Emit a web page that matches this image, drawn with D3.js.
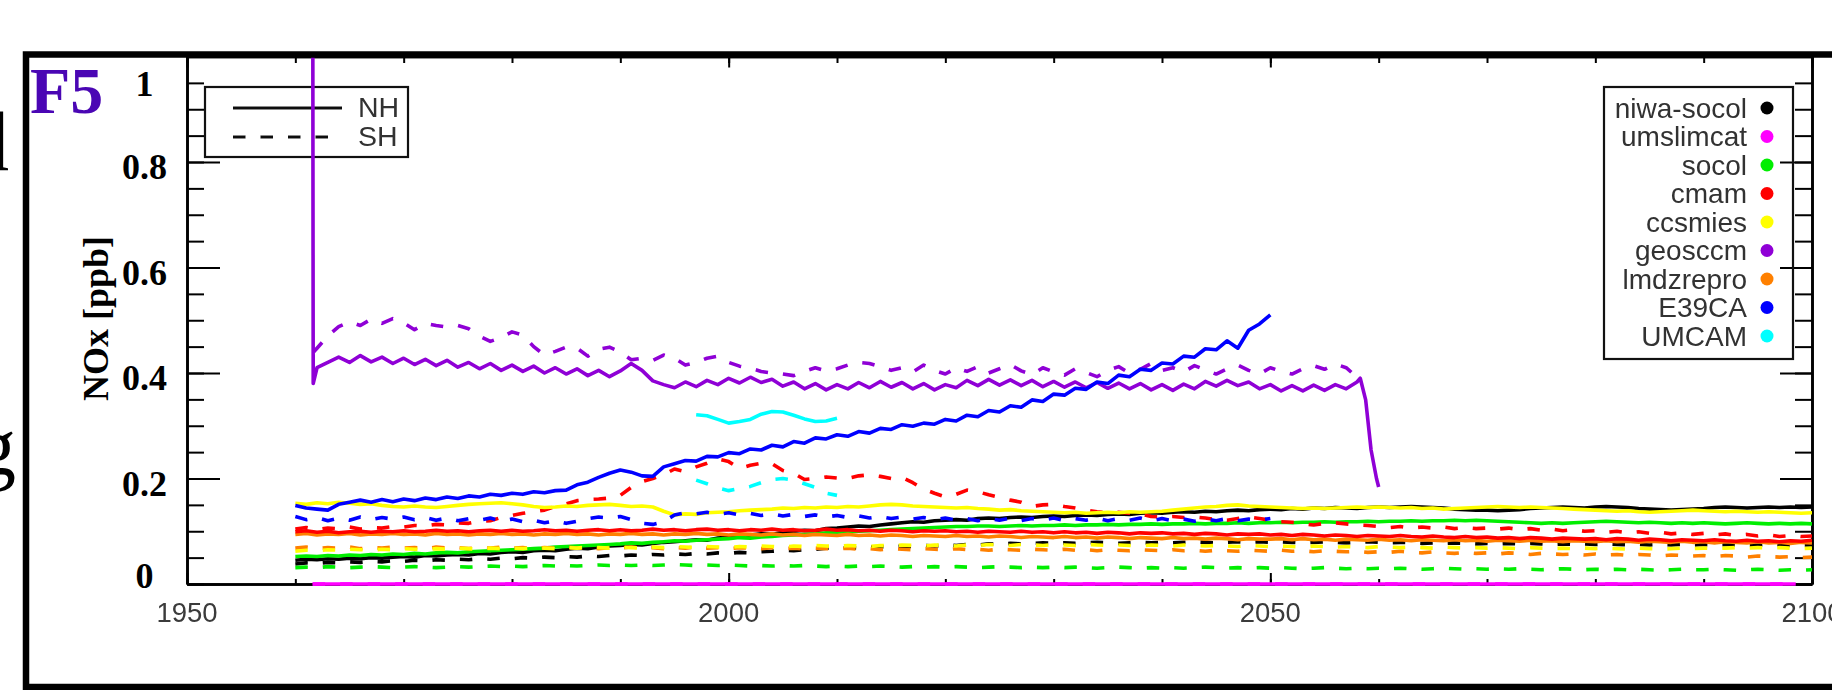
<!DOCTYPE html>
<html>
<head>
<meta charset="utf-8">
<script src="https://cdn.jsdelivr.net/npm/d3@7"></script>
<style>
  html, body { margin: 0; padding: 0; background: #fff; overflow: hidden; }
  svg { display: block; }
</style>
</head>
<body>
<svg id="chart" width="1832" height="690"></svg>
<script>
// ---------------------------------------------------------------
// NOx [ppb] per model, annual values. NH = solid, SH = dashed.
// ---------------------------------------------------------------
const models = ["niwa-socol", "umslimcat", "socol", "cmam", "ccsmies",
                "geosccm", "lmdzrepro", "E39CA", "UMCAM"];
const hemispheres = ["NH", "SH"];

const xTickLabels = [1950, 2000, 2050, 2100];
const yTickLabels = [0, 0.2, 0.4, 0.6, 0.8, 1];

// niwa-socol, 1960-2100
const niwaNH = [
  0.045,0.047,0.046,0.048,0.047,0.049,0.048,0.05,0.049,0.051,
  0.052,0.051,0.054,0.053,0.055,0.056,0.055,0.058,0.057,0.06,
  0.061,0.06,0.063,0.064,0.063,0.066,0.068,0.067,0.07,0.072,
  0.073,0.075,0.074,0.077,0.079,0.08,0.082,0.084,0.083,0.087,
  0.089,0.09,0.093,0.095,0.094,0.098,0.1,0.102,0.101,0.105,
  0.106,0.108,0.11,0.109,0.112,0.114,0.116,0.118,0.117,0.12,
  0.121,0.122,0.121,0.124,0.125,0.124,0.126,0.127,0.126,0.128,
  0.129,0.128,0.13,0.131,0.13,0.132,0.133,0.132,0.134,0.135,
  0.134,0.136,0.137,0.136,0.138,0.137,0.139,0.14,0.139,0.141,
  0.142,0.141,0.143,0.142,0.144,0.143,0.145,0.144,0.143,0.145,
  0.146,0.145,0.146,0.147,0.146,0.145,0.144,0.142,0.141,0.14,
  0.14,0.139,0.14,0.141,0.143,0.144,0.145,0.146,0.145,0.144,
  0.146,0.147,0.146,0.145,0.143,0.142,0.141,0.14,0.141,0.142,
  0.143,0.145,0.146,0.145,0.144,0.145,0.146,0.145,0.146,0.145,
  0.146];
const niwaSH = [
  0.038,0.04,0.039,0.041,0.04,0.042,0.041,0.043,0.042,0.044,
  0.043,0.045,0.044,0.046,0.045,0.047,0.046,0.048,0.047,0.049,
  0.048,0.05,0.049,0.051,0.05,0.052,0.051,0.053,0.052,0.054,
  0.053,0.055,0.054,0.056,0.055,0.057,0.056,0.058,0.057,0.059,
  0.058,0.06,0.059,0.061,0.062,0.064,0.063,0.065,0.066,0.068,
  0.067,0.069,0.068,0.07,0.071,0.07,0.072,0.071,0.073,0.072,
  0.074,0.073,0.075,0.074,0.076,0.075,0.077,0.076,0.077,0.078,
  0.077,0.078,0.077,0.078,0.079,0.078,0.077,0.078,0.079,0.078,
  0.079,0.078,0.079,0.08,0.079,0.078,0.079,0.08,0.079,0.08,
  0.079,0.08,0.079,0.078,0.079,0.08,0.079,0.078,0.079,0.08,
  0.079,0.078,0.079,0.078,0.077,0.078,0.077,0.078,0.077,0.076,
  0.077,0.076,0.077,0.076,0.077,0.076,0.075,0.076,0.075,0.076,
  0.075,0.076,0.075,0.074,0.075,0.074,0.075,0.074,0.075,0.074,
  0.075,0.074,0.075,0.074,0.073,0.074,0.075,0.074,0.073,0.074,
  0.074];

// umslimcat stays at zero over its whole run
const umsYears = [1961.6, 2098.5];
const umsNH = [0, 0];
const umsSH = [0, 0];

// socol, 1960-2100
const socolNH = [
  0.052,0.053,0.052,0.054,0.053,0.055,0.054,0.056,0.055,0.057,
  0.056,0.058,0.057,0.059,0.06,0.059,0.061,0.062,0.063,0.064,
  0.065,0.066,0.067,0.068,0.07,0.071,0.072,0.073,0.074,0.075,
  0.076,0.078,0.077,0.079,0.08,0.082,0.081,0.083,0.084,0.085,
  0.086,0.088,0.087,0.089,0.09,0.092,0.093,0.094,0.095,0.097,
  0.098,0.099,0.1,0.101,0.102,0.103,0.104,0.105,0.106,0.107,
  0.108,0.109,0.109,0.11,0.11,0.109,0.11,0.111,0.11,0.111,
  0.111,0.112,0.111,0.112,0.112,0.113,0.112,0.113,0.113,0.114,
  0.113,0.114,0.114,0.115,0.114,0.115,0.115,0.116,0.115,0.116,
  0.116,0.117,0.116,0.117,0.117,0.118,0.117,0.118,0.118,0.119,
  0.118,0.119,0.119,0.12,0.119,0.12,0.12,0.121,0.12,0.121,
  0.12,0.119,0.118,0.117,0.116,0.115,0.116,0.115,0.116,0.117,
  0.118,0.119,0.118,0.117,0.116,0.117,0.116,0.115,0.116,0.115,
  0.116,0.115,0.114,0.115,0.116,0.115,0.114,0.115,0.114,0.115,
  0.114];
const socolSH = [
  0.031,0.032,0.031,0.033,0.032,0.031,0.032,0.033,0.032,0.031,
  0.032,0.033,0.032,0.031,0.032,0.033,0.032,0.033,0.034,0.033,
  0.034,0.033,0.034,0.035,0.034,0.035,0.034,0.035,0.036,0.035,
  0.036,0.035,0.036,0.035,0.036,0.037,0.036,0.035,0.036,0.035,
  0.036,0.035,0.034,0.035,0.034,0.035,0.034,0.035,0.034,0.033,
  0.034,0.033,0.034,0.033,0.034,0.033,0.032,0.033,0.032,0.033,
  0.032,0.033,0.032,0.031,0.032,0.033,0.032,0.031,0.032,0.031,
  0.032,0.031,0.032,0.031,0.03,0.031,0.032,0.031,0.03,0.031,
  0.03,0.031,0.03,0.031,0.032,0.031,0.03,0.031,0.03,0.031,
  0.03,0.031,0.03,0.029,0.03,0.031,0.03,0.029,0.03,0.029,
  0.03,0.029,0.03,0.029,0.028,0.029,0.03,0.029,0.028,0.029,
  0.028,0.029,0.028,0.029,0.028,0.027,0.028,0.029,0.028,0.027,
  0.028,0.027,0.028,0.027,0.028,0.027,0.026,0.027,0.028,0.027,
  0.027,0.028,0.027,0.026,0.027,0.028,0.027,0.026,0.027,0.026,
  0.027];

// cmam, 1960-2100
const cmamNH = [
  0.099,0.101,0.098,0.1,0.097,0.099,0.1,0.098,0.1,0.099,
  0.101,0.099,0.1,0.102,0.1,0.101,0.099,0.101,0.102,0.1,
  0.102,0.1,0.101,0.103,0.101,0.102,0.1,0.102,0.103,0.101,
  0.103,0.101,0.102,0.104,0.102,0.103,0.101,0.103,0.104,0.102,
  0.103,0.101,0.103,0.102,0.104,0.102,0.103,0.101,0.102,0.104,
  0.102,0.103,0.101,0.102,0.1,0.102,0.101,0.099,0.101,0.1,
  0.101,0.099,0.1,0.098,0.1,0.099,0.098,0.1,0.098,0.099,
  0.097,0.099,0.097,0.098,0.096,0.098,0.097,0.095,0.097,0.096,
  0.097,0.095,0.096,0.094,0.096,0.095,0.093,0.095,0.094,0.095,
  0.093,0.094,0.092,0.094,0.093,0.091,0.093,0.092,0.09,0.092,
  0.091,0.09,0.092,0.09,0.089,0.091,0.089,0.088,0.09,0.088,
  0.089,0.087,0.088,0.086,0.088,0.087,0.085,0.087,0.086,0.085,
  0.086,0.084,0.086,0.085,0.083,0.085,0.084,0.082,0.084,0.083,
  0.082,0.084,0.082,0.081,0.083,0.081,0.082,0.08,0.082,0.081,
  0.083];
const cmamSH = [
  0.104,0.107,0.103,0.106,0.105,0.108,0.104,0.107,0.106,0.109,
  0.108,0.111,0.11,0.113,0.112,0.116,0.115,0.119,0.12,0.126,
  0.13,0.134,0.137,0.14,0.147,0.152,0.158,0.16,0.161,0.163,
  0.168,0.183,0.194,0.2,0.207,0.218,0.213,0.222,0.229,0.237,
  0.232,0.219,0.225,0.229,0.228,0.215,0.21,0.198,0.2,0.203,
  0.201,0.2,0.205,0.207,0.204,0.2,0.202,0.192,0.18,0.172,
  0.165,0.17,0.178,0.175,0.169,0.164,0.159,0.155,0.147,0.15,
  0.151,0.147,0.144,0.14,0.137,0.135,0.136,0.134,0.133,0.128,
  0.127,0.128,0.126,0.127,0.125,0.122,0.121,0.124,0.127,0.124,
  0.121,0.118,0.117,0.114,0.112,0.115,0.116,0.114,0.112,0.111,
  0.109,0.107,0.109,0.106,0.108,0.106,0.108,0.105,0.107,0.105,
  0.106,0.104,0.106,0.103,0.105,0.102,0.104,0.101,0.103,0.1,
  0.101,0.098,0.1,0.097,0.099,0.096,0.098,0.095,0.097,0.094,
  0.096,0.093,0.095,0.092,0.094,0.091,0.093,0.09,0.092,0.09,
  0.091];

// ccsmies, 1960-2100
const ccsmNH = [
  0.153,0.151,0.154,0.152,0.155,0.153,0.151,0.152,0.149,0.147,
  0.146,0.148,0.146,0.145,0.147,0.149,0.151,0.152,0.153,0.154,
  0.152,0.15,0.147,0.145,0.146,0.148,0.147,0.149,0.15,0.151,
  0.149,0.147,0.148,0.146,0.138,0.131,0.133,0.132,0.135,0.136,
  0.137,0.139,0.14,0.141,0.142,0.144,0.143,0.145,0.144,0.146,
  0.145,0.147,0.146,0.148,0.15,0.151,0.15,0.148,0.147,0.146,
  0.145,0.144,0.145,0.143,0.142,0.14,0.141,0.139,0.138,0.137,
  0.136,0.135,0.136,0.134,0.135,0.136,0.135,0.137,0.136,0.137,
  0.138,0.14,0.142,0.144,0.146,0.147,0.149,0.15,0.148,0.147,
  0.146,0.145,0.144,0.143,0.144,0.143,0.144,0.145,0.146,0.145,
  0.146,0.145,0.144,0.145,0.143,0.144,0.142,0.143,0.144,0.145,
  0.146,0.147,0.146,0.145,0.146,0.145,0.144,0.143,0.142,0.141,
  0.14,0.139,0.138,0.139,0.137,0.136,0.137,0.138,0.139,0.14,
  0.139,0.138,0.137,0.138,0.137,0.136,0.137,0.136,0.135,0.134,
  0.135];
const ccsmSH = [
  0.062,0.064,0.063,0.065,0.064,0.066,0.065,0.064,0.066,0.065,
  0.067,0.066,0.065,0.067,0.066,0.068,0.067,0.066,0.068,0.067,
  0.068,0.067,0.069,0.068,0.067,0.069,0.068,0.07,0.069,0.068,
  0.07,0.069,0.068,0.07,0.069,0.071,0.07,0.069,0.071,0.07,
  0.069,0.071,0.07,0.072,0.071,0.07,0.072,0.071,0.073,0.072,
  0.071,0.073,0.072,0.071,0.073,0.072,0.074,0.073,0.072,0.074,
  0.073,0.072,0.074,0.073,0.075,0.074,0.073,0.075,0.074,0.073,
  0.075,0.074,0.073,0.075,0.074,0.073,0.074,0.073,0.072,0.074,
  0.073,0.072,0.074,0.073,0.072,0.073,0.072,0.071,0.073,0.072,
  0.071,0.072,0.071,0.07,0.072,0.071,0.07,0.071,0.07,0.069,
  0.071,0.07,0.069,0.07,0.069,0.068,0.07,0.069,0.068,0.069,
  0.068,0.069,0.068,0.067,0.069,0.068,0.067,0.068,0.067,0.068,
  0.067,0.068,0.067,0.066,0.068,0.067,0.066,0.067,0.068,0.067,
  0.068,0.067,0.068,0.069,0.068,0.069,0.068,0.069,0.068,0.067,
  0.068];

// geosccm: a start-up spike and a fast collapse at the end, annual in between (1962-2058)
const geosHeadNH = [[1961.6, 1.3], [1961.65, 0.38]];
const geosNH = [
  0.41,0.42,0.43,0.42,0.433,0.421,0.43,0.418,0.428,0.416,
  0.426,0.414,0.424,0.411,0.42,0.408,0.418,0.405,0.415,0.403,
  0.413,0.4,0.41,0.398,0.408,0.395,0.405,0.393,0.404,0.418,
  0.405,0.385,0.378,0.372,0.383,0.374,0.386,0.378,0.39,0.381,
  0.392,0.382,0.388,0.375,0.383,0.37,0.38,0.368,0.378,0.37,
  0.382,0.372,0.384,0.373,0.382,0.37,0.38,0.368,0.378,0.372,
  0.386,0.376,0.388,0.377,0.387,0.376,0.386,0.374,0.384,0.373,
  0.383,0.372,0.382,0.371,0.381,0.37,0.38,0.368,0.378,0.367,
  0.379,0.37,0.384,0.375,0.386,0.376,0.383,0.37,0.378,0.366,
  0.376,0.366,0.377,0.367,0.378,0.37,0.383];
const geosTailNH = [[2058.3, 0.39], [2058.8, 0.349], [2059.3, 0.254], [2059.8, 0.2], [2060, 0.184]];
const geosHeadSH = [[1961.7, 0.44]];
const geosSH = [
  0.447,0.47,0.488,0.497,0.49,0.502,0.494,0.503,0.495,0.482,
  0.494,0.49,0.487,0.49,0.484,0.47,0.46,0.467,0.478,0.472,
  0.45,0.434,0.441,0.449,0.447,0.432,0.445,0.449,0.44,0.425,
  0.428,0.424,0.434,0.428,0.415,0.42,0.428,0.432,0.42,0.413,
  0.409,0.403,0.4,0.398,0.395,0.403,0.41,0.404,0.408,0.415,
  0.42,0.418,0.412,0.405,0.41,0.402,0.415,0.405,0.398,0.41,
  0.403,0.412,0.4,0.408,0.416,0.404,0.397,0.41,0.402,0.396,
  0.408,0.401,0.393,0.405,0.412,0.4,0.407,0.418,0.405,0.41,
  0.402,0.414,0.406,0.398,0.408,0.415,0.405,0.398,0.41,0.403,
  0.398,0.408,0.414,0.407,0.417,0.41,0.392];

// lmdzrepro, 1960-2100
const lmdzNH = [
  0.094,0.096,0.093,0.095,0.094,0.096,0.093,0.095,0.094,0.096,
  0.094,0.095,0.093,0.096,0.094,0.095,0.093,0.095,0.094,0.096,
  0.094,0.095,0.093,0.095,0.094,0.096,0.094,0.095,0.093,0.095,
  0.094,0.096,0.094,0.095,0.093,0.095,0.094,0.096,0.094,0.095,
  0.093,0.095,0.094,0.093,0.095,0.093,0.094,0.092,0.094,0.093,
  0.092,0.094,0.092,0.093,0.091,0.093,0.092,0.09,0.092,0.091,
  0.09,0.092,0.09,0.091,0.089,0.091,0.09,0.088,0.09,0.089,
  0.088,0.09,0.088,0.089,0.087,0.089,0.088,0.086,0.088,0.087,
  0.086,0.088,0.086,0.087,0.085,0.087,0.086,0.084,0.086,0.085,
  0.085,0.086,0.084,0.086,0.084,0.085,0.083,0.085,0.084,0.083,
  0.085,0.083,0.084,0.082,0.084,0.083,0.082,0.084,0.082,0.083,
  0.081,0.083,0.082,0.081,0.083,0.081,0.082,0.08,0.082,0.081,
  0.08,0.082,0.08,0.081,0.079,0.081,0.08,0.079,0.081,0.079,
  0.08,0.078,0.08,0.079,0.078,0.08,0.078,0.079,0.077,0.079,
  0.078];
const lmdzSH = [
  0.068,0.07,0.067,0.069,0.068,0.07,0.067,0.069,0.068,0.07,
  0.068,0.069,0.067,0.07,0.068,0.069,0.067,0.069,0.068,0.07,
  0.068,0.069,0.067,0.069,0.068,0.07,0.068,0.069,0.067,0.069,
  0.068,0.07,0.068,0.069,0.067,0.069,0.068,0.07,0.068,0.069,
  0.067,0.069,0.068,0.067,0.069,0.067,0.068,0.066,0.068,0.067,
  0.066,0.068,0.066,0.067,0.065,0.067,0.066,0.065,0.067,0.066,
  0.065,0.067,0.065,0.066,0.064,0.066,0.065,0.064,0.066,0.065,
  0.064,0.066,0.064,0.065,0.063,0.065,0.064,0.063,0.065,0.064,
  0.063,0.065,0.063,0.064,0.062,0.064,0.063,0.062,0.064,0.063,
  0.062,0.064,0.062,0.063,0.061,0.063,0.062,0.061,0.062,0.06,
  0.061,0.06,0.062,0.06,0.059,0.061,0.059,0.058,0.06,0.058,
  0.059,0.057,0.059,0.058,0.056,0.058,0.057,0.056,0.057,0.055,
  0.057,0.055,0.056,0.054,0.056,0.055,0.053,0.055,0.054,0.053,
  0.054,0.052,0.054,0.053,0.051,0.053,0.052,0.051,0.052,0.05,
  0.051];

// E39CA, 1960-2050
const e39NH = [
  0.149,0.144,0.142,0.14,0.151,0.155,0.159,0.155,0.16,0.156,
  0.161,0.158,0.163,0.16,0.165,0.162,0.167,0.165,0.17,0.168,
  0.172,0.17,0.175,0.173,0.177,0.178,0.188,0.193,0.202,0.21,
  0.216,0.212,0.205,0.204,0.222,0.228,0.234,0.233,0.242,0.241,
  0.249,0.247,0.256,0.254,0.263,0.26,0.27,0.267,0.277,0.275,
  0.283,0.28,0.289,0.286,0.295,0.293,0.302,0.299,0.305,0.303,
  0.312,0.309,0.32,0.317,0.329,0.326,0.338,0.335,0.349,0.346,
  0.36,0.358,0.371,0.369,0.383,0.38,0.396,0.393,0.407,0.405,
  0.419,0.417,0.432,0.43,0.446,0.444,0.461,0.447,0.481,0.493,
  0.51];
const e39SH = [
  0.128,0.122,0.126,0.12,0.125,0.121,0.127,0.122,0.126,0.123,
  0.127,0.122,0.126,0.121,0.125,0.12,0.124,0.121,0.125,0.119,
  0.123,0.118,0.121,0.116,0.12,0.115,0.119,0.124,0.127,0.125,
  0.128,0.122,0.115,0.113,0.118,0.131,0.135,0.133,0.136,0.132,
  0.135,0.131,0.134,0.13,0.133,0.129,0.132,0.128,0.131,0.127,
  0.13,0.126,0.129,0.125,0.128,0.124,0.127,0.123,0.126,0.122,
  0.125,0.121,0.124,0.12,0.124,0.121,0.125,0.12,0.124,0.121,
  0.125,0.12,0.124,0.121,0.125,0.12,0.124,0.121,0.125,0.12,
  0.124,0.12,0.123,0.119,0.123,0.12,0.124,0.12,0.123,0.121,
  0.124];

// UMCAM, 1997-2010
const umcamNH = [0.321,0.319,0.312,0.305,0.308,0.312,0.322,0.327,0.326,0.32,0.313,0.308,0.309,0.314];
const umcamSH = [0.197,0.19,0.182,0.177,0.181,0.185,0.192,0.198,0.2,0.197,0.19,0.183,0.172,0.168];

// ---------------------------------------------------------------
// Layout
// ---------------------------------------------------------------
const W = 1832, H = 690;
const plot = { left: 187, right: 1812, top: 56.5, bottom: 584 };
const modelColors = ["#000000", "#ff00ff", "#00ee00", "#ff0000", "#ffff00",
                     "#8f00d6", "#ff8000", "#0000ff", "#00ffff"];
const dash = "12.5,15";

const x = d3.scaleLinear().domain([1950, 2100]).range([plot.left, plot.right]);
const y = d3.scaleLinear().domain([0, 1]).range([plot.bottom, plot.top]);

const annual = (start, values) => values.map((v, i) => ({ year: start + i, value: v }));
const pairs = list => list.map(([yr, v]) => ({ year: yr, value: v }));

const series = [
  { m: 0, h: "SH", pts: annual(1960, niwaSH) },
  { m: 0, h: "NH", pts: annual(1960, niwaNH) },
  { m: 1, h: "SH", pts: umsYears.map((yr, i) => ({ year: yr, value: umsSH[i] })) },
  { m: 1, h: "NH", pts: umsYears.map((yr, i) => ({ year: yr, value: umsNH[i] })) },
  { m: 2, h: "SH", pts: annual(1960, socolSH) },
  { m: 2, h: "NH", pts: annual(1960, socolNH) },
  { m: 6, h: "SH", pts: annual(1960, lmdzSH) },
  { m: 6, h: "NH", pts: annual(1960, lmdzNH) },
  { m: 3, h: "SH", pts: annual(1960, cmamSH) },
  { m: 3, h: "NH", pts: annual(1960, cmamNH) },
  { m: 4, h: "SH", pts: annual(1960, ccsmSH) },
  { m: 4, h: "NH", pts: annual(1960, ccsmNH) },
  { m: 5, h: "SH", pts: pairs(geosHeadSH).concat(annual(1962, geosSH)) },
  { m: 5, h: "NH", pts: pairs(geosHeadNH).concat(annual(1962, geosNH), pairs(geosTailNH)) },
  { m: 7, h: "SH", pts: annual(1960, e39SH) },
  { m: 7, h: "NH", pts: annual(1960, e39NH) },
  { m: 8, h: "SH", pts: annual(1997, umcamSH) },
  { m: 8, h: "NH", pts: annual(1997, umcamNH) }
];

const svg = d3.select("#chart");
svg.append("rect").attr("width", W).attr("height", H).attr("fill", "#fff");

const defs = svg.append("defs");
defs.append("clipPath").attr("id", "plotClip").append("rect")
  .attr("x", plot.left).attr("y", plot.top)
  .attr("width", plot.right - plot.left).attr("height", plot.bottom - plot.top + 4);
const soft = defs.append("filter").attr("id", "soft")
  .attr("filterUnits", "userSpaceOnUse")
  .attr("x", 0).attr("y", 0).attr("width", W).attr("height", H);
soft.append("feGaussianBlur").attr("stdDeviation", 0.7);

// ---------------------------------------------------------------
// Axes box: ticks on all four sides, IDL style
// ---------------------------------------------------------------
const yMinor = d3.range(0, 21).map(i => i * 0.05);
const yMajor = yTickLabels;
const xMinor = d3.range(1950, 2101, 10);
const xMajor = xTickLabels;

function styleAxis(g, domainWidth) {
  g.selectAll(".domain").attr("stroke", "#000").attr("stroke-width", domainWidth);
  g.selectAll(".tick line").attr("stroke", "#000").attr("stroke-width", 2);
  g.selectAll(".tick text").remove();
}

const axes = svg.append("g");
axes.append("g").attr("transform", `translate(${plot.left},0)`)
  .call(d3.axisRight(y).tickValues(yMinor).tickSize(17).tickSizeOuter(0).tickFormat(""))
  .call(g => styleAxis(g, 2.6));
axes.append("g").attr("transform", `translate(${plot.left},0)`)
  .call(d3.axisRight(y).tickValues(yMajor).tickSize(33).tickSizeOuter(0).tickFormat(""))
  .call(g => styleAxis(g, 2.6));
axes.append("g").attr("transform", `translate(${plot.right},0)`)
  .call(d3.axisLeft(y).tickValues(yMinor).tickSize(17).tickSizeOuter(0).tickFormat(""))
  .call(g => styleAxis(g, 2.6));
axes.append("g").attr("transform", `translate(${plot.right},0)`)
  .call(d3.axisLeft(y).tickValues(yMajor).tickSize(32).tickSizeOuter(0).tickFormat(""))
  .call(g => styleAxis(g, 2.6));
axes.append("g").attr("transform", `translate(0,${plot.bottom})`)
  .call(d3.axisTop(x).tickValues(xMinor).tickSize(5).tickSizeOuter(0).tickFormat(""))
  .call(g => styleAxis(g, 2.6));
axes.append("g").attr("transform", `translate(0,${plot.bottom})`)
  .call(d3.axisTop(x).tickValues(xMajor).tickSize(11).tickSizeOuter(0).tickFormat(""))
  .call(g => styleAxis(g, 2.6));
axes.append("g").attr("transform", `translate(0,${plot.top})`)
  .call(d3.axisBottom(x).tickValues(xMinor).tickSize(6.5).tickSizeOuter(0).tickFormat(""))
  .call(g => styleAxis(g, 2.6));
axes.append("g").attr("transform", `translate(0,${plot.top})`)
  .call(d3.axisBottom(x).tickValues(xMajor).tickSize(11).tickSizeOuter(0).tickFormat(""))
  .call(g => styleAxis(g, 2.6));

// x tick labels
svg.append("g").attr("filter", "url(#soft)")
  .selectAll("text").data(xTickLabels).join("text")
  .attr("x", d => x(d)).attr("y", 622)
  .attr("text-anchor", "middle")
  .attr("font-family", "'Liberation Sans', Arial, sans-serif")
  .attr("font-size", 27.5).attr("fill", "#3a3a3a")
  .text(d => d);

// y tick labels (kept inside the frame at the ends)
svg.append("g").selectAll("text").data(yTickLabels).join("text")
  .attr("x", 144.5)
  .attr("y", d => Math.min(Math.max(y(d) + 5, 84), 576) + 12)
  .attr("text-anchor", "middle")
  .attr("font-family", "'Liberation Serif', 'Times New Roman', serif")
  .attr("font-weight", "bold").attr("font-size", 36).attr("fill", "#000")
  .text(d => d3.format("~g")(d));

// y axis title
svg.append("text")
  .attr("transform", "translate(108,318.5) rotate(-90)")
  .attr("text-anchor", "middle")
  .attr("font-family", "'Liberation Serif', 'Times New Roman', serif")
  .attr("font-weight", "bold").attr("font-size", 36).attr("fill", "#000")
  .text("NOx [ppb]");

// ---------------------------------------------------------------
// Hemisphere line-style key
// ---------------------------------------------------------------
const keyRowY = d => 108 + d * 29;
const hemiKey = svg.append("g");
hemiKey.append("rect").attr("x", 205).attr("y", 87).attr("width", 203).attr("height", 70)
  .attr("fill", "none").attr("stroke", "#111").attr("stroke-width", 2.2);
const hemiRows = hemiKey.append("g").attr("filter", "url(#soft)")
  .selectAll("g").data(hemispheres).join("g");
hemiRows.append("line")
  .attr("x1", 233).attr("x2", 342)
  .attr("y1", (d, i) => keyRowY(i)).attr("y2", (d, i) => keyRowY(i))
  .attr("stroke", "#111").attr("stroke-width", 2.8)
  .attr("stroke-dasharray", d => d === "SH" ? dash : null);
hemiRows.append("text")
  .attr("x", 358).attr("y", (d, i) => keyRowY(i) + 9)
  .attr("font-family", "'Liberation Sans', Arial, sans-serif")
  .attr("font-size", 28.5).attr("fill", "#333")
  .text(d => d);

// ---------------------------------------------------------------
// Model key
// ---------------------------------------------------------------
const modelKey = svg.append("g");
modelKey.append("rect").attr("x", 1604).attr("y", 87).attr("width", 189).attr("height", 272)
  .attr("fill", "none").attr("stroke", "#111").attr("stroke-width", 2.2);
const rowY = d3.scaleLinear().domain([0, 1]).range([108, 136.5]);
const modelRows = modelKey.append("g").attr("filter", "url(#soft)")
  .selectAll("g").data(models).join("g");
modelRows.append("text")
  .attr("x", 1747).attr("y", (d, i) => rowY(i) + 9.5)
  .attr("text-anchor", "end")
  .attr("font-family", "'Liberation Sans', Arial, sans-serif")
  .attr("font-size", 28).attr("fill", "#333")
  .text(d => d);
modelRows.append("circle")
  .attr("cx", 1767).attr("cy", (d, i) => rowY(i)).attr("r", 6.5)
  .attr("fill", (d, i) => modelColors[i]);

// ---------------------------------------------------------------
// Model curves
// ---------------------------------------------------------------
const line = d3.line().x(d => x(d.year)).y(d => y(d.value));
svg.append("g").attr("clip-path", "url(#plotClip)")
  .append("g").attr("filter", "url(#soft)")
  .selectAll("path").data(series).join("path")
  .attr("d", d => line(d.pts))
  .attr("fill", "none")
  .attr("stroke", d => modelColors[d.m])
  .attr("stroke-width", 3.6)
  .attr("stroke-linejoin", "round")
  .attr("stroke-dasharray", d => d.h === "SH" ? dash : null);

// ---------------------------------------------------------------
// Panel frame, panel tag and the edge of the neighbouring text
// ---------------------------------------------------------------
svg.append("rect")
  .attr("x", 26).attr("y", 54.5).attr("width", 1900).attr("height", 632.5)
  .attr("fill", "none").attr("stroke", "#000").attr("stroke-width", 6.5);

svg.append("text")
  .attr("x", 30).attr("y", 113)
  .attr("font-family", "'Liberation Serif', 'Times New Roman', serif")
  .attr("font-weight", "bold").attr("font-size", 66).attr("fill", "#4a06b4")
  .text("F5");

const edgeText = svg.append("g")
  .attr("font-family", "'Liberation Serif', 'Times New Roman', serif")
  .attr("fill", "#000").attr("text-anchor", "end");
edgeText.append("text").attr("x", 9).attr("y", 170).attr("font-size", 85).text("d");
edgeText.append("text").attr("x", 16).attr("y", 474).attr("font-size", 82).text("g");
</script>
</body>
</html>
